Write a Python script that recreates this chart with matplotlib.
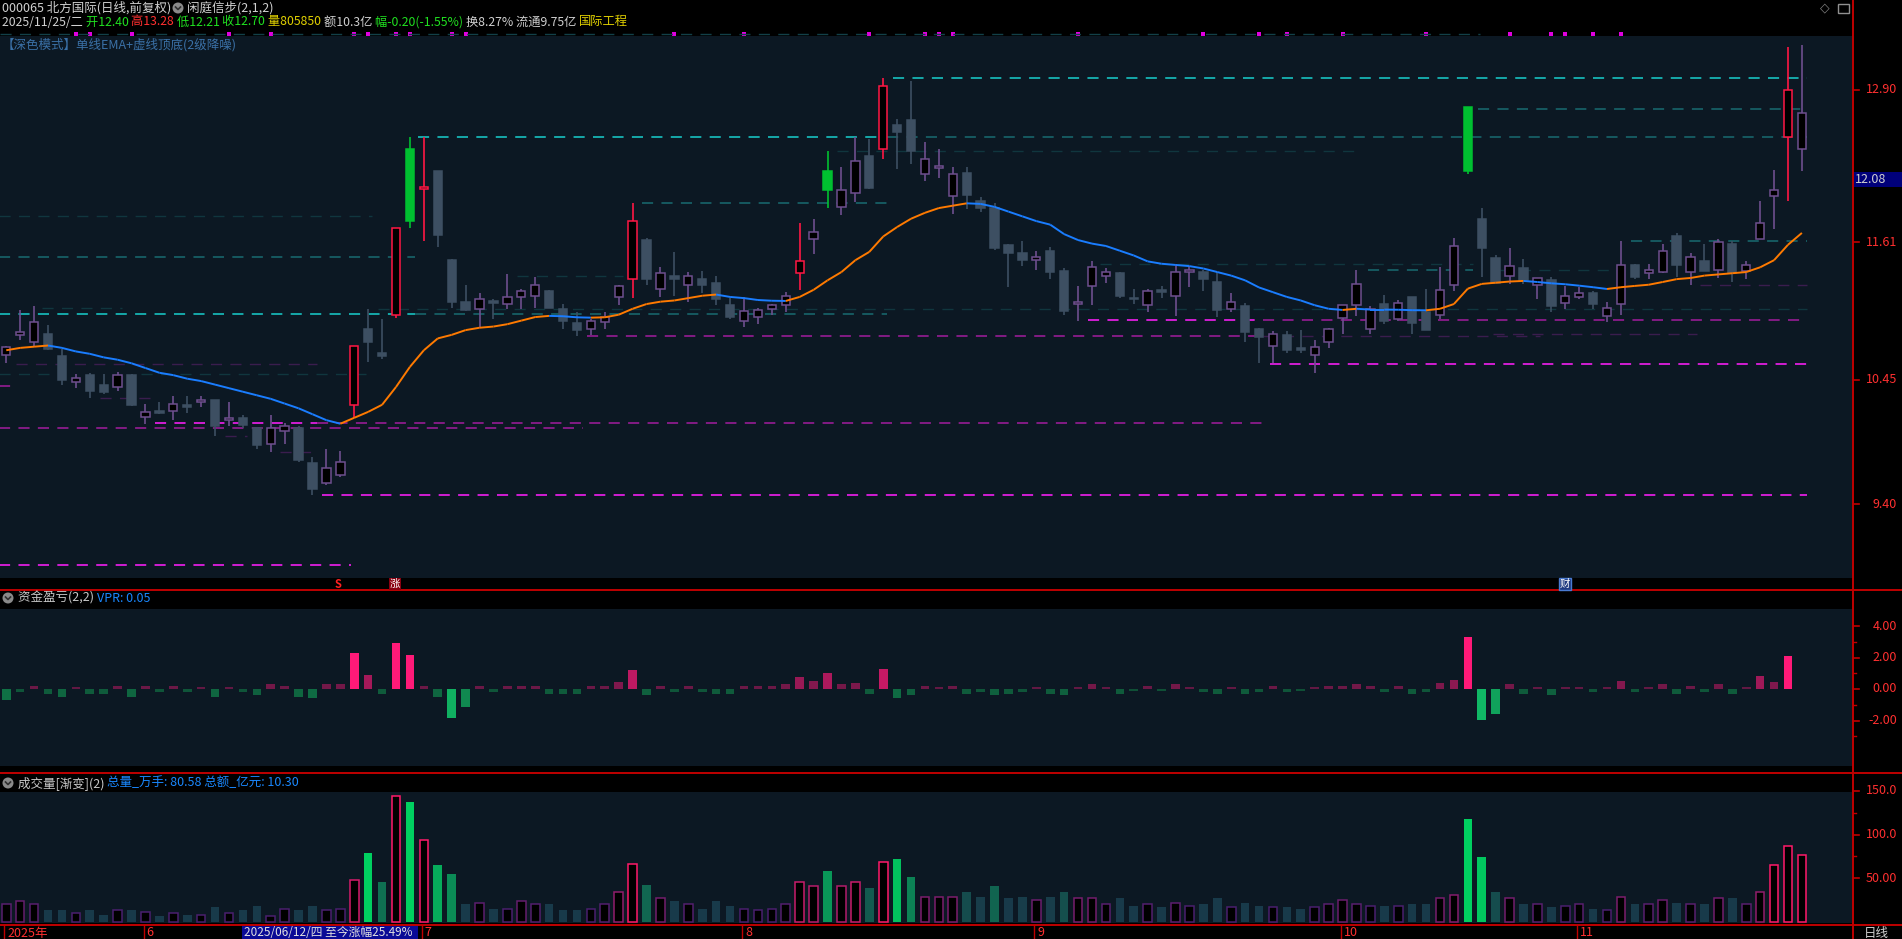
import numpy as np
import matplotlib.pyplot as plt
from matplotlib.collections import LineCollection
from matplotlib.patches import Rectangle, Circle
from matplotlib.lines import Line2D
from matplotlib.transforms import IdentityTransform
import matplotlib.colors as mcolors

plt.rcParams['font.family'] = ['Noto Sans CJK SC', 'DejaVu Sans']
plt.rcParams['lines.scale_dashes'] = False

W, H = 1902, 939
BG = '#0c1823'

# daily bars, 2025/05/19 .. 2025/11/25
opens = [10.66, 10.83, 10.77, 10.84, 10.65, 10.43, 10.49, 10.41, 10.39, 10.49,
         10.14, 10.19, 10.19, 10.24, 10.26, 10.28, 10.11, 10.13, 10.04, 9.91,
         10.02, 10.04, 9.75, 9.58, 9.65, 10.24, 10.88, 10.68, 11.00, 12.40,
         12.06, 12.21, 11.46, 11.11, 11.05, 11.11, 11.09, 11.15, 11.16, 11.20,
         11.05, 10.93, 10.88, 10.94, 11.15, 11.30, 11.63, 11.22, 11.33, 11.25,
         11.30, 11.27, 11.08, 10.95, 10.98, 11.05, 11.08, 11.35, 11.64, 12.21,
         11.91, 12.03, 12.34, 12.40, 12.60, 12.64, 12.19, 12.24, 12.00, 12.20,
         11.96, 11.90, 11.59, 11.52, 11.46, 11.54, 11.37, 11.09, 11.24, 11.33,
         11.35, 11.14, 11.08, 11.20, 11.16, 11.36, 11.36, 11.28, 11.05, 11.07,
         10.88, 10.74, 10.83, 10.71, 10.66, 10.77, 10.97, 11.08, 10.88, 11.09,
         10.96, 11.15, 11.02, 11.00, 11.25, 12.75, 11.81, 11.48, 11.33, 11.39,
         11.25, 11.29, 11.10, 11.15, 11.18, 10.99, 11.09, 11.42, 11.35, 11.36,
         11.66, 11.36, 11.45, 11.38, 11.60, 11.37, 11.64, 12.00, 12.50, 12.40]
highs = [10.74, 11.04, 11.07, 10.91, 10.71, 10.50, 10.51, 10.50, 10.52, 10.50,
         10.25, 10.26, 10.31, 10.31, 10.31, 10.28, 10.26, 10.15, 10.05, 10.15,
         10.09, 10.06, 9.80, 9.87, 9.85, 10.74, 11.05, 10.96, 11.73, 12.50,
         12.50, 12.21, 11.47, 11.25, 11.18, 11.13, 11.34, 11.22, 11.32, 11.21,
         11.09, 11.02, 10.96, 11.02, 11.25, 11.94, 11.65, 11.40, 11.53, 11.36,
         11.37, 11.33, 11.14, 11.15, 11.06, 11.09, 11.19, 11.77, 11.81, 12.38,
         12.25, 12.50, 12.48, 13.00, 12.65, 12.97, 12.46, 12.40, 12.25, 12.25,
         11.99, 11.94, 11.60, 11.62, 11.54, 11.57, 11.39, 11.24, 11.45, 11.39,
         11.36, 11.22, 11.22, 11.24, 11.43, 11.41, 11.38, 11.36, 11.18, 11.10,
         10.89, 10.86, 10.86, 10.87, 10.79, 10.89, 11.08, 11.38, 11.07, 11.17,
         11.12, 11.15, 11.22, 11.40, 11.65, 12.75, 11.90, 11.50, 11.56, 11.47,
         11.31, 11.32, 11.24, 11.23, 11.20, 11.11, 11.62, 11.43, 11.43, 11.60,
         11.69, 11.52, 11.60, 11.64, 11.62, 11.45, 11.96, 12.22, 13.26, 13.28]
lows = [10.59, 10.79, 10.73, 10.70, 10.41, 10.38, 10.30, 10.33, 10.36, 10.23,
        10.08, 10.16, 10.11, 10.17, 10.22, 9.98, 10.06, 10.04, 9.87, 9.84,
        9.91, 9.76, 9.48, 9.56, 9.63, 10.13, 10.60, 10.63, 10.97, 11.73,
        11.62, 11.57, 11.06, 11.03, 10.89, 10.96, 11.05, 11.05, 11.06, 11.06,
        10.88, 10.82, 10.83, 10.88, 11.08, 11.14, 11.25, 11.15, 11.16, 11.11,
        11.18, 11.08, 10.96, 10.90, 10.92, 11.00, 11.02, 11.21, 11.51, 11.90,
        11.84, 11.95, 12.06, 12.31, 12.23, 12.27, 12.13, 12.15, 11.85, 11.89,
        11.87, 11.55, 11.23, 11.41, 11.38, 11.30, 11.00, 10.95, 11.08, 11.27,
        11.14, 11.09, 11.02, 11.14, 10.99, 11.23, 11.20, 10.98, 11.02, 10.77,
        10.59, 10.59, 10.68, 10.68, 10.51, 10.72, 10.84, 10.99, 10.84, 10.92,
        10.95, 10.84, 10.87, 10.96, 11.20, 12.19, 11.32, 11.27, 11.26, 11.26,
        11.13, 11.02, 11.05, 11.13, 11.05, 10.94, 11.00, 11.30, 11.30, 11.35,
        11.32, 11.25, 11.37, 11.31, 11.28, 11.30, 11.64, 11.72, 11.96, 12.21]
closes = [10.73, 10.85, 10.94, 10.71, 10.45, 10.47, 10.36, 10.35, 10.49, 10.24,
          10.18, 10.17, 10.25, 10.22, 10.28, 10.06, 10.12, 10.07, 9.90, 10.04,
          10.06, 9.77, 9.53, 9.71, 9.76, 10.74, 10.77, 10.65, 11.73, 11.79,
          12.08, 11.67, 11.11, 11.04, 11.13, 11.10, 11.15, 11.20, 11.25, 11.06,
          10.95, 10.87, 10.95, 10.98, 11.24, 11.79, 11.30, 11.35, 11.30, 11.33,
          11.25, 11.13, 10.98, 11.03, 11.04, 11.08, 11.16, 11.45, 11.70, 12.05,
          12.05, 12.30, 12.07, 12.93, 12.54, 12.38, 12.31, 12.25, 12.19, 12.01,
          11.90, 11.56, 11.52, 11.46, 11.49, 11.36, 11.03, 11.10, 11.40, 11.36,
          11.16, 11.13, 11.20, 11.19, 11.36, 11.37, 11.30, 11.04, 11.11, 10.85,
          10.81, 10.84, 10.70, 10.70, 10.73, 10.88, 11.08, 11.26, 11.05, 10.95,
          11.10, 10.93, 10.87, 11.21, 11.58, 12.21, 11.56, 11.27, 11.41, 11.29,
          11.31, 11.07, 11.16, 11.18, 11.09, 11.06, 11.42, 11.32, 11.38, 11.54,
          11.42, 11.49, 11.37, 11.61, 11.35, 11.42, 11.77, 12.05, 12.90, 12.70]
ema = [10.70, 10.72, 10.73, 10.74, 10.72, 10.69, 10.67, 10.64, 10.62, 10.59,
       10.55, 10.51, 10.49, 10.46, 10.44, 10.41, 10.38, 10.35, 10.32, 10.29,
       10.25, 10.21, 10.16, 10.11, 10.08, 10.13, 10.18, 10.24, 10.39, 10.56,
       10.70, 10.80, 10.83, 10.87, 10.89, 10.90, 10.92, 10.95, 10.98, 10.99,
       10.987, 10.978, 10.975, 10.978, 11.00, 11.05, 11.09, 11.11, 11.12, 11.14,
       11.16, 11.17, 11.15, 11.14, 11.124, 11.118, 11.116, 11.15, 11.21, 11.29,
       11.36, 11.46, 11.53, 11.66, 11.74, 11.81, 11.86, 11.90, 11.92, 11.94,
       11.935, 11.91, 11.87, 11.83, 11.79, 11.76, 11.68, 11.63, 11.60, 11.58,
       11.54, 11.50, 11.45, 11.43, 11.42, 11.41, 11.39, 11.36, 11.33, 11.29,
       11.23, 11.19, 11.15, 11.12, 11.08, 11.05, 11.04, 11.05, 11.043, 11.043,
       11.042, 11.038, 11.037, 11.05, 11.09, 11.22, 11.26, 11.27, 11.28, 11.285,
       11.276, 11.265, 11.257, 11.245, 11.232, 11.217, 11.232, 11.243, 11.253, 11.276,
       11.30, 11.31, 11.33, 11.34, 11.35, 11.36, 11.40, 11.46, 11.59, 11.69]
strong_up = [25, 28, 30, 45, 57, 63, 128]
strong_down = [29, 59, 105]

# dashed top / bottom levels: (price, from bar, to bar)
cyan_levels = [(13.00, 63.7, 129.4), (12.50, 29.6, 63.3), (11.004, -0.5, 29.4)]
teal_levels = [(12.74, 105.7, 129.4), (12.50, 63.3, 129.4), (11.94, 45.7, 63.3),
               (11.62, 116.7, 129.4), (11.49, -0.5, 29.4), (11.375, 97.8, 105.4),
               (11.004, 29.4, 63.3)]
dim_teal_levels = [(12.38, 59.7, 97.4), (11.83, -0.5, 26.3), (11.43, 78.6, 105.4),
                   (11.375, 107.3, 115.4), (11.33, 36.7, 44.3), (11.06, 2.6, 8.3),
                   (11.045, 26.7, 129.4), (10.50, -0.5, 3.4), (10.50, 9.7, 26.3)]
magenta_levels = [(10.953, 77.7, 90.3), (10.587, 90.8, 129.4), (10.084, 10.7, 22.3),
                  (9.476, 22.7, 129.4), (8.888, -0.5, 24.8)]
purple_levels = [(10.953, 90.3, 129.4), (10.818, 41.7, 90.3), (10.396, -0.5, 0.4),
                 (10.084, 22.3, 90.2), (10.042, -0.5, 41.4)]
dim_purple_levels = [(11.248, 121.7, 129.4), (10.835, 106.8, 121.5), (10.818, 90.3, 110.2),
                     (10.587, 0.7, 22.3), (10.295, 6.7, 10.3), (9.977, 15.7, 17.3),
                     (9.839, 19.7, 22.3)]
top_marks = [5, 6, 9, 16, 19, 25, 26, 28, 29, 32, 33, 48, 53, 62, 66, 67, 68, 77, 86,
             90, 92, 96, 102, 108, 111, 112, 114, 116]

vpr = [-0.7, -0.2, 0.2, -0.3, -0.5, 0.1, -0.3, -0.3, 0.2, -0.5,
       0.2, -0.2, 0.2, -0.2, 0.1, -0.5, 0.1, -0.2, -0.4, 0.3,
       0.2, -0.5, -0.6, 0.3, 0.3, 2.3, 0.9, -0.3, 2.9, 2.15,
       0.2, -0.5, -1.85, -1.15, 0.2, -0.2, 0.2, 0.2, 0.2, -0.3,
       -0.3, -0.3, 0.2, 0.2, 0.45, 1.2, -0.4, 0.2, -0.2, 0.2,
       -0.2, -0.3, -0.3, 0.2, 0.2, 0.2, 0.3, 0.75, 0.5, 1.0,
       0.3, 0.4, -0.3, 1.3, -0.6, -0.4, 0.2, 0.1, 0.2, -0.3,
       -0.2, -0.4, -0.3, -0.2, 0.1, -0.3, -0.4, 0.1, 0.3, 0.1,
       -0.3, -0.1, 0.2, -0.1, 0.3, 0.1, -0.2, -0.3, 0.1, -0.3,
       -0.2, 0.2, -0.2, -0.1, 0.1, 0.2, 0.2, 0.3, 0.2, -0.2,
       0.2, -0.3, -0.2, 0.4, 0.6, 3.3, -2.0, -1.6, 0.3, -0.3,
       0.1, -0.4, 0.1, 0.1, -0.2, 0.1, 0.5, -0.2, 0.1, 0.3,
       -0.3, 0.2, -0.2, 0.3, -0.3, 0.1, 0.85, 0.45, 2.1, 0.0]
volume = [21, 24, 21, 13, 13, 10, 13, 8, 13, 13,
          11, 6, 10, 8, 8, 17, 10, 13, 18, 7,
          15, 14, 18, 14, 15, 49, 80, 46, 147, 139,
          95, 66, 55, 20, 22, 15, 15, 24, 20, 20,
          13, 13, 15, 20, 34, 67, 43, 27, 24, 20,
          15, 24, 18, 15, 14, 15, 20, 46, 42, 59,
          41, 46, 39, 70, 73, 52, 29, 29, 29, 34,
          29, 42, 27, 29, 25, 29, 35, 28, 27, 21,
          27, 18, 20, 17, 22, 18, 20, 27, 17, 22,
          18, 17, 17, 15, 17, 21, 25, 21, 18, 18,
          18, 21, 21, 28, 31, 120, 75, 34, 27, 20,
          21, 17, 18, 21, 15, 14, 29, 20, 21, 25,
          22, 21, 21, 27, 27, 21, 34, 66, 88, 78]

month_bars = [0, 10, 30, 53, 74, 96, 113]
month_labels = ['2025年', '6', '7', '8', '9', '10', '11']
price_ticks = [12.90, 11.61, 10.45, 9.40]
vpr_ticks = [4.0, 2.0, 0.0, -2.0]
vol_ticks = [150, 100, 50]

n = len(closes)
xs = np.arange(n)

fig = plt.figure(figsize=(W / 100, H / 100), dpi=100, facecolor='black')


def box(x0, y0, x1, y1):
    return [x0 / W, 1 - y1 / H, (x1 - x0) / W, (y1 - y0) / H]


def mix(c0, c1, t):
    a = np.array(mcolors.to_rgb(c0))
    b = np.array(mcolors.to_rgb(c1))
    return tuple(a + (b - a) * float(np.clip(t, 0, 1)))


ax = fig.add_axes(box(0, 36, 1852, 578), facecolor=BG)
ax2 = fig.add_axes(box(0, 609, 1852, 766), facecolor=BG)
ax3 = fig.add_axes(box(0, 792, 1852, 923), facecolor=BG)
for a in (ax, ax2, ax3):
    a.set_xlim(-0.45, 132.6)
    for s in a.spines.values():
        s.set_visible(False)
    a.set_xticks([])
    a.set_yticks([])
ax.set_ylim(8.778, 13.352)
ax2.set_ylim(-4.89, 5.08)
ax3.set_ylim(-1.7, 151.1)

# level lines
dash = (0, (8, 6))
groups = [(dim_purple_levels, '#3a1d4e', 1.0), (purple_levels, '#8c1c8c', 1.3),
          (magenta_levels, '#e01ee0', 1.3), (dim_teal_levels, '#10363e', 1.0),
          (teal_levels, '#17646a', 1.2), (cyan_levels, '#16b4b4', 1.3)]
for levels, col, lw in groups:
    for p, a0, a1 in levels:
        ax.plot([a0, a1], [p, p], color=col, lw=lw, ls=dash, zorder=1)

# candles
PURPLE = '#6e4f8f'
RED = '#ff1744'
SLATE = '#3d4f62'
GREEN = '#00c030'
for i in range(n):
    o, hi, lo, c = opens[i], highs[i], lows[i], closes[i]
    if i in strong_up:
        col, face = RED, 'black'
    elif i in strong_down:
        col, face = GREEN, GREEN
    elif c >= o:
        col, face = PURPLE, 'black'
    else:
        col, face = SLATE, SLATE
    ax.vlines(i, lo, hi, color=col, lw=1.2, zorder=2)
    ax.add_patch(Rectangle((i - 0.3, min(o, c)), 0.6, max(abs(c - o), 0.015),
                           facecolor=face, edgecolor=col, lw=1.1, zorder=3))

# EMA, orange when rising, blue when falling
pts = np.column_stack([xs, ema])
segs = np.stack([pts[:-1], pts[1:]], axis=1)
ecol = ['#ff7a00' if ema[k + 1] > ema[k] else '#1a7dff' for k in range(n - 1)]
ax.add_collection(LineCollection(segs, colors=ecol, lw=1.4, zorder=4))

# VPR bars
for i, v in enumerate(vpr):
    t = abs(v) / 2.0
    col = mix('#5a1840', '#ff1a78', t) if v >= 0 else mix('#0f4a34', '#10b865', t)
    ax2.bar(i, v, width=0.62, color=col, lw=0)

# volume bars
for i, v in enumerate(volume):
    if closes[i] >= opens[i] and i not in strong_down:
        ec = mix('#4a1f6e', '#ff1a6a', (v - 18) / 40)
        ax3.bar(i, v, width=0.62, facecolor='black', edgecolor=ec, lw=1.1)
    else:
        fc = mix('#183a4a', '#00d060', (v - 28) / 50)
        ax3.bar(i, v, width=0.62, color=fc, lw=0)

# separators
red = '#c00000'
for y in (589.5, 772.5, 924.5):
    fig.add_artist(Line2D([0, 1], [1 - y / H] * 2, color=red, lw=1.4))
fig.add_artist(Line2D([1852.5 / W] * 2, [0, 1], color=red, lw=1.4))

TXT = dict(fontsize=9, va='center', ha='left')
rend = fig.canvas.get_renderer()


def run(x, y, pieces, size=9):
    for s, col in pieces:
        t = fig.text(x / W, 1 - y / H, s, color=col, fontsize=size, va='center', ha='left')
        x += t.get_window_extent(rend).width
    return x


def icon(x, y):
    fig.add_artist(Circle((x, H - y), 5.5, transform=IdentityTransform(),
                          facecolor='#8a8a8a', edgecolor='none'))
    fig.add_artist(Line2D([x - 2.5, x, x + 2.5], [H - y + 1, H - y - 1.5, H - y + 1],
                          transform=IdentityTransform(), color='#303030', lw=1.2))


run(2, 8, [('000065 北方国际(日线,前复权)', '#d0d0d0')])
icon(178, 8)
run(187, 8, [('闲庭信步(2,1,2)', '#d0d0d0')])
run(2, 22, [('2025/11/25/二 ', '#d0d0d0'), ('开12.40 ', '#20e020'), ('高13.28 ', '#ff3030'),
            ('低12.21 ', '#20e020'), ('收12.70 ', '#20e020'), ('量805850 ', '#e0d000'),
            ('额10.3亿 ', '#d0d0d0'), ('幅-0.20(-1.55%) ', '#20e020'),
            ('换8.27% ', '#d0d0d0'), ('流通9.75亿 ', '#d0d0d0'), ('国际工程', '#e0d000')],
    size=8.8)
fig.text(2 / W, 1 - 45 / H, '【深色模式】单线EMA+虚线顶底(2级降噪)', color='#3a70a6', **TXT)
fig.text(1825 / W, 1 - 8 / H, '◇', color='#808080', fontsize=9, va='center', ha='center',
         family='DejaVu Sans')
fig.add_artist(Rectangle((1838, H - 13), 11, 9, transform=IdentityTransform(),
                         facecolor='none', edgecolor='#909090', lw=1))

# strip above the price panel: clipped top level and signal marks
fig.add_artist(Line2D([0, 1480 / W], [1 - 34 / H] * 2, color='#124048', lw=1.0, ls=dash))
for m in top_marks:
    xp = 6.3 + 13.92 * m
    fig.add_artist(Rectangle((xp - 2, H - 36), 4, 4, transform=IdentityTransform(),
                             facecolor='#e000e0', edgecolor='none'))

icon(8, 598)
run(18, 598, [('资金盈亏(2,2) ', '#c8c8c8'), ('VPR: 0.05', '#1a88ff')])
icon(8, 783)
run(18, 783, [('成交量[渐变](2) ', '#c8c8c8'), ('总量_万手: 80.58 总额_亿元: 10.30', '#1a88ff')])


# right axis labels
def right_labels(ticks, labels, y_of):
    for v, s in zip(ticks, labels):
        y = y_of(v)
        fig.text(1897 / W, 1 - y / H, s, color='#ff3030', fontsize=9, va='center', ha='right')
        fig.add_artist(Line2D([1852.5 / W, 1859 / W], [1 - y / H] * 2, color=red, lw=1.2))


right_labels(price_ticks, ['%.2f' % v for v in price_ticks],
             lambda v: 89.6 + (12.90 - v) * 118.5)
right_labels(vpr_ticks, ['%.2f' % v for v in vpr_ticks], lambda v: 689 - v * 15.75)
right_labels(vol_ticks, ['150.0', '100.0', '50.00'], lambda v: 921.5 - v * 0.87)
for v in (3, 1, -1, -3):
    y = 689 - v * 15.75
    fig.add_artist(Line2D([1852.5 / W, 1856 / W], [1 - y / H] * 2, color=red, lw=1.0))
for v in (125, 75):
    y = 921.5 - v * 0.87
    fig.add_artist(Line2D([1852.5 / W, 1856 / W], [1 - y / H] * 2, color=red, lw=1.0))

fig.add_artist(Rectangle((1853, H - 187), 49, 15, transform=IdentityTransform(),
                         facecolor='#00007a', edgecolor='none'))
fig.text(1855 / W, 1 - 179.5 / H, '12.08', color='#d0d0d0', fontsize=9, va='center', ha='left')

# markers under the price panel
fig.text(338 / W, 1 - 584 / H, 'S', color='#ff2020', fontsize=8, va='center', ha='center',
         fontweight='bold')
fig.text(395 / W, 1 - 584 / H, '涨', color='#ffffff', fontsize=7.5, va='center', ha='center',
         bbox=dict(facecolor='#8a0010', edgecolor='none', pad=0.5))
fig.text(1565 / W, 1 - 584 / H, '财', color='#ffffff', fontsize=7.5, va='center', ha='center',
         bbox=dict(facecolor='#203a80', edgecolor='#4a7ad0', pad=0.5))

# date strip
for b, s in zip(month_bars, month_labels):
    xp = max(6.3 + 13.92 * b - 2, 1)
    fig.add_artist(Line2D([xp / W] * 2, [0, 1 - 925 / H], color=red, lw=1.0))
    fig.text((xp + 3) / W, 1 - 933 / H, s, color='#ff3030', fontsize=9, va='center', ha='left')
fig.add_artist(Rectangle((242, 0), 176, H - 926, transform=IdentityTransform(),
                         facecolor='#0a0a96', edgecolor='none'))
fig.text(244 / W, 1 - 933 / H, '2025/06/12/四 至今涨幅25.49%', color='#e0e0e0', fontsize=8.5,
         va='center', ha='left')
fig.text(1876 / W, 1 - 933 / H, '日线', color='#d0d0d0', fontsize=9, va='center', ha='center')

fig.savefig('out.png', dpi=100, facecolor='black')
